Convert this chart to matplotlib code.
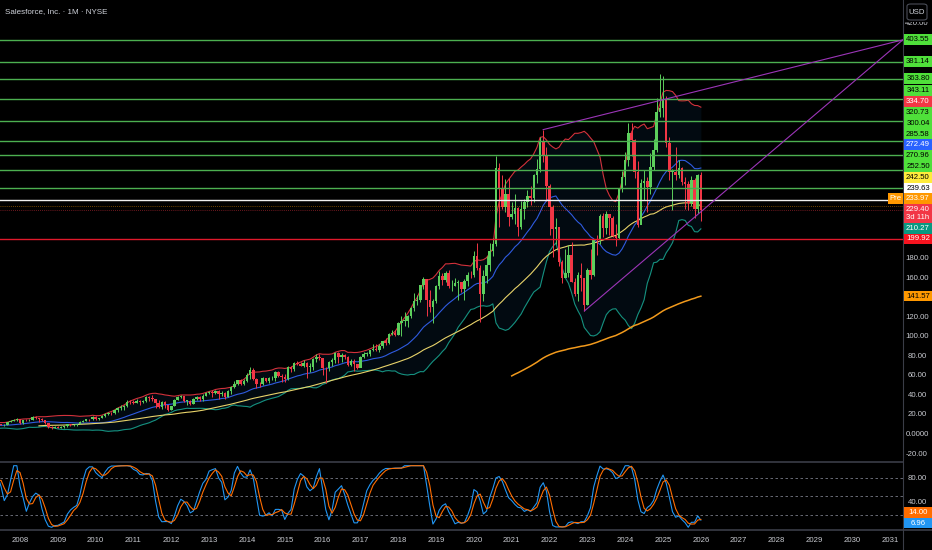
import numpy as np
import pandas as pd
import matplotlib
matplotlib.use('Agg')
import matplotlib.pyplot as plt
from matplotlib.patches import Rectangle, FancyBboxPatch

plt.rcParams['font.family'] = ['Liberation Sans Narrow', 'Liberation Sans', 'DejaVu Sans']

# ---------------- data (monthly, split adjusted) ----------------
start_month = '2004-06-01'
first_open = 3.9
close = [
    4.0, 3.4, 2.9, 3.9, 5.4, 4.2, 4.2,                                        # 2004 Jun-Dec
    3.6, 3.7, 3.8, 4.1, 4.9, 5.1, 5.7, 5.4, 5.8, 6.2, 7.1, 8.0,               # 2005
    10.4, 9.4, 9.1, 8.8, 8.3, 6.7, 6.4, 6.8, 9.0, 9.8, 10.3, 9.1,             # 2006
    10.9, 10.6, 10.7, 10.7, 11.3, 10.7, 9.6, 9.6, 12.8, 14.1, 14.9, 15.7,     # 2007
    11.6, 14.9, 14.5, 15.0, 18.1, 17.0, 15.9, 14.4, 12.1, 7.7, 7.0, 8.0,      # 2008
    6.7, 7.4, 8.2, 10.7, 9.5, 9.5, 10.9, 13.1, 14.2, 15.8, 15.4, 18.4,        # 2009
    15.9, 17.0, 18.6, 21.4, 21.6, 21.5, 24.7, 27.5, 28.0, 29.0, 33.2, 33.0,   # 2010
    32.3, 34.1, 33.4, 34.6, 38.0, 37.2, 36.2, 32.2, 28.6, 33.3, 29.7, 25.4,   # 2011
    29.2, 35.4, 38.6, 38.9, 34.6, 34.6, 31.0, 36.1, 38.2, 36.5, 39.4, 42.0,   # 2012
    43.2, 42.2, 44.7, 41.2, 42.4, 38.2, 44.6, 48.9, 51.9, 55.7, 52.0, 55.2,   # 2013
    60.5, 66.4, 57.1, 51.7, 51.3, 58.1, 54.3, 57.5, 57.5, 64.0, 59.9, 59.3,   # 2014
    56.5, 69.4, 66.8, 72.8, 72.6, 69.6, 73.2, 69.4, 69.4, 77.7, 79.7, 78.4,   # 2015
    68.1, 67.7, 73.8, 75.8, 83.7, 79.4, 81.8, 79.3, 71.3, 75.2, 72.0, 68.5,   # 2016
    79.1, 82.3, 82.5, 86.1, 87.6, 86.6, 90.8, 95.4, 93.4, 102.3, 104.2, 102.2,  # 2017
    113.9, 116.3, 116.3, 121.0, 129.3, 136.4, 137.2, 152.5, 159.0, 137.2, 130.6, 137.0,  # 2018
    152.0, 162.0, 158.4, 165.3, 151.4, 151.7, 154.5, 156.1, 148.4, 156.5, 162.8, 162.6,  # 2019
    182.3, 170.3, 144.0, 161.9, 173.8, 187.3, 194.8, 272.6, 251.3, 232.2, 246.0, 222.5,  # 2020
    225.6, 231.4, 211.9, 230.3, 238.1, 244.3, 241.9, 265.3, 271.2, 299.7, 285.0, 254.1,  # 2021
    232.6, 210.6, 212.3, 175.9, 160.2, 165.0, 184.0, 156.0, 143.8, 162.6, 160.2, 132.6,  # 2022
    168.2, 163.6, 199.8, 198.4, 223.4, 211.3, 225.0, 221.4, 202.8, 200.9, 251.6, 263.1,  # 2023
    281.1, 308.8, 301.2, 268.9, 214.4, 257.1, 258.8, 252.9, 273.7, 291.4, 330.0, 334.3,  # 2024
    341.7, 297.8, 268.6, 268.7, 265.4, 272.7, 258.3, 256.3, 237.0, 260.5, 230.5, 265.0,  # 2025
    229.4,                                                                                # 2026
]
high = [
    4.3, 4.1, 3.5, 4.0, 5.6, 5.5, 4.5,
    4.3, 3.9, 4.0, 4.2, 5.0, 5.4, 5.8, 5.9, 6.0, 6.5, 7.3, 8.3,
    10.6, 10.6, 9.6, 9.5, 9.1, 8.4, 6.9, 7.0, 9.2, 10.0, 11.0, 10.4,
    11.2, 11.7, 11.0, 11.2, 11.9, 11.7, 10.9, 10.3, 13.0, 14.4, 16.0, 16.6,
    15.8, 15.2, 15.6, 16.0, 18.9, 19.0, 17.3, 16.8, 14.9, 12.2, 8.8, 8.3,
    8.5, 8.3, 8.8, 10.9, 10.7, 10.5, 11.1, 13.4, 14.6, 16.2, 15.9, 18.5,
    18.6, 17.4, 19.5, 22.2, 23.5, 23.5, 25.9, 27.9, 30.0, 30.2, 34.8, 35.8,
    35.6, 36.7, 35.3, 35.6, 39.1, 39.2, 40.0, 36.3, 35.1, 34.5, 34.0, 30.2,
    29.6, 36.0, 39.7, 40.8, 39.5, 35.5, 35.6, 37.3, 39.7, 39.0, 41.5, 43.3,
    44.6, 45.5, 45.8, 45.3, 44.9, 43.1, 45.5, 49.7, 54.4, 56.0, 56.3, 56.5,
    62.5, 68.7, 67.9, 57.5, 53.9, 58.9, 58.1, 59.3, 60.1, 64.6, 64.9, 61.4,
    61.9, 70.5, 70.4, 74.6, 75.1, 74.4, 75.8, 74.3, 72.9, 77.8, 82.1, 82.0,
    78.4, 69.5, 75.4, 78.5, 84.5, 84.5, 83.5, 82.7, 80.1, 77.4, 77.6, 72.5,
    80.6, 84.1, 84.6, 86.6, 92.5, 92.5, 92.9, 96.1, 98.6, 104.1, 106.6, 107.0,
    114.9, 121.3, 125.5, 122.5, 130.5, 144.6, 142.5, 153.2, 161.2, 158.6, 147.9, 138.9,
    153.0, 167.5, 165.3, 167.6, 168.4, 157.6, 159.9, 158.5, 156.2, 159.4, 165.8, 167.6,
    187.9, 195.7, 173.3, 167.8, 182.8, 195.7, 200.7, 284.5, 278.1, 265.0, 261.0, 261.8,
    237.3, 246.2, 232.8, 238.9, 241.0, 250.0, 254.0, 266.3, 281.8, 304.5, 311.8, 294.5,
    256.0, 234.6, 221.9, 212.0, 178.0, 190.0, 194.0, 197.0, 160.0, 166.0, 175.0, 160.0,
    170.3, 190.0, 200.0, 204.0, 225.0, 226.8, 229.0, 225.0, 223.8, 215.0, 252.2, 269.0,
    289.0, 318.7, 318.7, 302.0, 280.0, 261.0, 270.0, 263.0, 287.5, 302.0, 343.7, 369.0,
    367.0, 346.0, 304.0, 272.0, 294.0, 281.0, 274.0, 263.0, 259.0, 264.0, 262.0, 266.0,
    268.0,
]
low = [
    3.7, 3.2, 2.7, 2.8, 3.8, 4.0, 3.9,
    3.4, 3.4, 3.5, 3.6, 4.0, 4.7, 5.0, 5.2, 5.2, 5.6, 6.0, 7.0,
    8.0, 8.8, 8.5, 8.6, 7.6, 6.4, 5.9, 6.1, 6.7, 8.8, 9.6, 8.9,
    8.9, 10.3, 9.8, 10.2, 10.6, 10.5, 9.5, 8.7, 9.6, 12.4, 13.4, 14.2,
    10.5, 11.2, 13.6, 13.5, 14.9, 16.2, 13.1, 13.9, 10.4, 6.8, 5.2, 6.3,
    6.4, 6.3, 6.8, 8.1, 9.1, 8.9, 9.0, 10.8, 12.3, 13.8, 14.2, 15.0,
    15.1, 15.1, 16.7, 18.4, 19.7, 19.9, 20.5, 23.3, 24.7, 25.5, 28.2, 31.2,
    30.9, 31.8, 30.5, 32.0, 33.6, 34.2, 34.4, 26.9, 27.0, 25.8, 27.4, 24.2,
    25.2, 29.1, 35.0, 37.1, 33.5, 30.5, 30.2, 30.9, 35.5, 34.4, 33.8, 39.4,
    41.3, 38.4, 41.4, 36.7, 39.5, 36.0, 38.1, 41.2, 47.8, 50.2, 50.7, 50.5,
    53.7, 56.9, 56.0, 47.2, 48.2, 50.8, 53.2, 52.7, 55.5, 54.4, 58.5, 53.5,
    53.8, 55.3, 64.2, 64.7, 70.8, 69.6, 68.7, 58.2, 64.3, 66.4, 74.0, 76.0,
    60.7, 52.6, 64.7, 69.6, 73.0, 73.5, 74.3, 77.0, 69.6, 70.0, 65.2, 66.6,
    69.8, 78.6, 80.1, 80.3, 85.2, 85.2, 84.2, 88.0, 92.0, 93.0, 102.0, 100.5,
    102.1, 101.1, 110.9, 110.0, 118.9, 126.0, 132.1, 136.0, 149.1, 121.2, 125.3, 113.6,
    134.8, 148.3, 152.8, 155.9, 150.0, 146.4, 151.6, 137.5, 145.4, 137.9, 152.3, 159.6,
    161.5, 168.1, 115.3, 136.5, 155.3, 167.3, 183.0, 193.0, 212.3, 230.8, 228.0, 213.5,
    220.8, 215.0, 202.5, 210.0, 220.0, 233.0, 235.0, 238.0, 257.0, 268.0, 279.0, 239.0,
    204.0, 181.8, 195.0, 172.2, 154.6, 161.0, 161.5, 155.6, 142.0, 136.6, 146.5, 126.3,
    132.1, 159.0, 162.0, 183.1, 195.0, 202.4, 205.0, 203.8, 202.0, 193.0, 200.0, 248.0,
    255.5, 275.0, 285.0, 262.7, 212.0, 223.0, 240.0, 227.6, 246.0, 270.0, 289.0, 325.0,
    325.0, 294.0, 260.5, 230.0, 260.0, 262.0, 255.0, 231.0, 230.0, 234.0, 221.0, 227.0,
    218.0,
]

# horizontal drawn levels
green_levels = [403.55, 381.14, 363.80, 343.11, 320.73, 300.04, 285.58, 270.96, 252.50]
white_level = 239.63
red_level = 199.92
pre_price = 233.97
last_price = 229.40
# trend lines (date, price) anchors
trend_upper = [(2021.83, 311.75), (2031.34, 403.55)]
trend_lower = [(2022.92, 126.30), (2031.34, 403.55)]

# right scale labels (value, text, background, text colour)
price_labels = [(v, f'{v:.2f}', '#4fe03a', '#000000') for v in green_levels] + [
    (334.70, '334.70', '#f23645', '#ffffff'),
    (272.49, '272.49', '#2962ff', '#ffffff'),
    (242.50, '242.50', '#ffeb3b', '#000000'),
    (239.63, '239.63', '#ffffff', '#000000'),
    (233.97, '233.97', '#ff9800', '#ffffff'),
    (229.40, '229.40\n3d 11h', '#f23645', '#ffffff'),
    (210.27, '210.27', '#089981', '#ffffff'),
    (199.92, '199.92', '#f7131f', '#ffffff'),
]
ema200_label = (141.57, '141.57', '#ff9800', '#000000')
stoch_labels = [(14.00, '14.00', '#ff6d00', '#ffffff'), (6.96, '6.96', '#2196f3', '#ffffff')]
price_ticks = [-20, 0, 20, 40, 60, 80, 100, 120, 160, 180, 420]
price_tick_text = ['-20.00', '0.0000', '20.00', '40.00', '60.00', '80.00', '100.00',
                   '120.00', '160.00', '180.00', '420.00']
stoch_ticks = [80, 40]
years = list(range(2008, 2032))
title = 'Salesforce, Inc. · 1M · NYSE'

# ---------------- computations ----------------
close_a = np.array(close)
high_a = np.array(high)
low_a = np.array(low)
open_a = np.concatenate([[first_open], close_a[:-1]])
dates = pd.date_range(start_month, periods=len(close), freq='MS')
t = dates.year + (dates.month - 1) / 12.0

s = pd.Series(close_a)
basis = s.rolling(20).mean()
dev = s.rolling(20).std(ddof=0)
upper = basis + 2 * dev
lower = basis - 2 * dev
sma50 = s.rolling(50).mean()

# EMA 200 seeded with the SMA of the first 200 bars
L = 200
ema200 = np.full(len(s), np.nan)
ema200[L - 1] = close_a[:L].mean()
alpha = 2.0 / (L + 1)
for i in range(L, len(s)):
    ema200[i] = alpha * close_a[i] + (1 - alpha) * ema200[i - 1]

# Stochastic RSI (3,3,14,14)
delta = s.diff()
gain = delta.clip(lower=0).fillna(0).values
loss = (-delta).clip(lower=0).fillna(0).values
n = 14
ag = np.full(len(s), np.nan)
al = np.full(len(s), np.nan)
ag[n] = gain[1:n + 1].mean()
al[n] = loss[1:n + 1].mean()
for i in range(n + 1, len(s)):
    ag[i] = (ag[i - 1] * (n - 1) + gain[i]) / n
    al[i] = (al[i - 1] * (n - 1) + loss[i]) / n
rsi = pd.Series(100 - 100 / (1 + ag / al))
lo = rsi.rolling(14).min()
hi = rsi.rolling(14).max()
stoch = 100 * (rsi - lo) / (hi - lo)
k = stoch.rolling(3).mean()
d = k.rolling(3).mean()

# ---------------- figure ----------------
W, H = 932, 550
fig = plt.figure(figsize=(W / 100, H / 100), dpi=100, facecolor='#000000')
ax = fig.add_axes([0, 1 - 462 / H, 903 / W, 462 / H])
ax2 = fig.add_axes([0, 1 - 530 / H, 903 / W, 68 / H])
XL = (2007.471, 2031.344)
for a in (ax, ax2):
    a.set_facecolor('#000000')
    a.set_xlim(*XL)
    a.set_xticks([])
    a.set_yticks([])
    for sp in a.spines.values():
        sp.set_visible(False)
ax.set_ylim(-28.1, 444.3)
ax2.set_ylim(-4.4, 106)

up_c, dn_c = '#5ccf5c', '#f23645'
cols = np.where(close_a >= open_a, up_c, dn_c)
w = 0.066

# Bollinger band fill + lines
ax.fill_between(t, upper, lower, color='#2196f3', alpha=0.07, lw=0, zorder=1)
ax.plot(t, upper, color='#d2323c', lw=0.8, zorder=2)
ax.plot(t, lower, color='#15917f', lw=0.8, zorder=2)
ax.plot(t, basis, color='#2f5be0', lw=0.8, zorder=2)
ax.plot(t, sma50, color='#e8d36a', lw=0.8, zorder=2)
ax.plot(t, ema200, color='#f29a1c', lw=1.1, zorder=2)

# candles
ax.vlines(t, low_a, high_a, colors=cols, lw=0.7, zorder=3)
ax.bar(t, np.maximum(np.abs(close_a - open_a), 0.6), bottom=np.minimum(open_a, close_a),
       width=w, color=cols, lw=0, zorder=4)

# horizontal levels
for v in green_levels:
    ax.axhline(v, color='#4caf50', lw=1.0, zorder=5)
ax.axhline(white_level, color='#f0f0f0', lw=1.0, zorder=5)
ax.axhline(red_level, color='#e0192b', lw=1.0, zorder=5)
ax.axhline(pre_price, color='#ff9800', lw=0.6, ls=(0, (1, 1.5)), alpha=0.6, zorder=5)
ax.axhline(last_price, color='#f23645', lw=0.6, ls=(0, (1, 1.5)), alpha=0.6, zorder=5)

# trend lines
for tl in (trend_upper, trend_lower):
    ax.plot([p[0] for p in tl], [p[1] for p in tl], color='#9c35b8', lw=0.8, zorder=5)

# stochastic panel
for lvl in (80, 50, 20):
    ax2.axhline(lvl, color='#787b86', lw=0.6, ls=(0, (3, 3)))
ax2.plot(t, k, color='#2196f3', lw=0.8)
ax2.plot(t, d, color='#ff6d00', lw=0.8)

# separators
sep = '#3a3d47'
fig.add_artist(plt.Line2D([0, 903 / W], [1 - 462 / H] * 2, color=sep, lw=1.2, transform=fig.transFigure))
fig.add_artist(plt.Line2D([0, 1], [1 - 530 / H] * 2, color=sep, lw=1.2, transform=fig.transFigure))
fig.add_artist(plt.Line2D([903 / W] * 2, [0, 1], color=sep, lw=0.8, transform=fig.transFigure))

tick_col = '#c9cbd1'
fs = 5.6


def ypix(a, v):
    return H - a.transData.transform((0, v))[1]


def xpix(a, v):
    return a.transData.transform((v, 0))[0]


def fy(p):
    return 1 - p / H


# x axis labels
for yr in years:
    fig.text(xpix(ax2, yr) / W, fy(541), str(yr), color=tick_col, fontsize=fs,
             ha='center', va='center')

# right price ticks
for v, txt in zip(price_ticks, price_tick_text):
    fig.text(917 / W, fy(ypix(ax, v)), txt, color=tick_col, fontsize=fs, ha='center', va='center')
for v in stoch_ticks:
    fig.text(917 / W, fy(ypix(ax2, v)), f'{v:.2f}', color=tick_col, fontsize=fs, ha='center', va='center')

HS, HD, ANC = 10.8, 18.5, 5.4


def place(labels, a):
    # bottom-up stacking: a label that would overlap the one below is pushed upward
    items = []
    for v, txt, bg, fg in labels:
        h = HD if '\n' in txt else HS
        items.append(dict(nat=ypix(a, v) - ANC, h=h, txt=txt, bg=bg, fg=fg))
    items.sort(key=lambda it: -it['nat'])
    out = []
    limit = 1e9
    for it in items:
        top = min(it['nat'], limit - it['h'])
        out.append((top, it))
        limit = top
    return out


def draw_box(y, it, x0=904, bw=28):
    fig.add_artist(Rectangle((x0 / W, fy(y + it['h'])), bw / W, it['h'] / H, transform=fig.transFigure,
                             facecolor=it['bg'], edgecolor='none', zorder=10))
    lines = it['txt'].split('\n')
    for j, ln in enumerate(lines):
        fig.text((x0 + bw / 2) / W, fy(y + ANC + 8 * j), ln, color=it['fg'], fontsize=fs,
                 ha='center', va='center', zorder=11)


for y, it in place(price_labels + [ema200_label], ax):
    draw_box(y, it)
    if it['txt'] == '233.97':
        fig.add_artist(Rectangle((888 / W, fy(y + HS)), 15 / W, HS / H, transform=fig.transFigure,
                                 facecolor='#ff9800', edgecolor='none', zorder=10))
        fig.text(895.5 / W, fy(y + ANC), 'Pre', color='#ffffff', fontsize=fs, ha='center',
                 va='center', zorder=11)
for y, it in place(stoch_labels, ax2):
    draw_box(y, it)

# USD button
fig.add_artist(Rectangle((904 / W, fy(22)), 28 / W, 22 / H, transform=fig.transFigure,
                         facecolor='#000000', edgecolor='none', zorder=12))
fig.add_artist(FancyBboxPatch((907 / W, fy(20)), 20 / W, 16 / H, boxstyle='round,pad=0,rounding_size=0.004',
                              transform=fig.transFigure, facecolor='#000000', edgecolor='#4a4d57',
                              lw=0.8, zorder=13))
fig.text(917 / W, fy(12), 'USD', color='#d1d4dc', fontsize=fs, ha='center', va='center', zorder=14)

# title
fig.text(5 / W, fy(12), title, color='#d1d4dc', fontsize=5.8, ha='left', va='center')

fig.savefig('out.png', dpi=100, facecolor='#000000')
